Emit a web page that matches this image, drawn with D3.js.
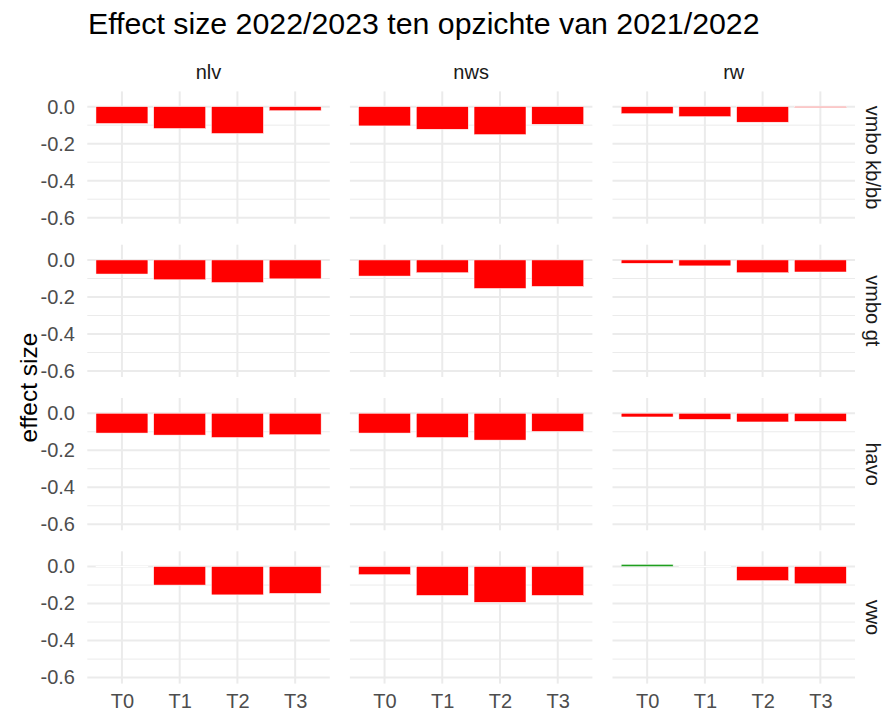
<!DOCTYPE html>
<html>
<head>
<meta charset="utf-8">
<script src="https://cdn.jsdelivr.net/npm/d3@7"></script>
<style>
  body { margin: 0; background: #fff; }
  text { font-family: 'Liberation Sans', Arial, sans-serif; }
</style>
</head>
<body>
<div id="chart"></div>
<script>
const subjects = ['nlv', 'nws', 'rw']
const levels = ['vmbo kb/bb', 'vmbo gt', 'havo', 'vwo']
const tests = ['T0', 'T1', 'T2', 'T3']
const yTicks = [0, -0.2, -0.4, -0.6]
const yMinorTicks = [-0.1, -0.3, -0.5]

// effect sizes, one row per level, columns T0..T3
const nlvValues = [
  [-0.091, -0.118, -0.145, -0.022],
  [-0.076, -0.107, -0.122, -0.102],
  [-0.107, -0.118, -0.131, -0.116],
  [-0.001, -0.100, -0.153, -0.145]
]
const nwsValues = [
  [-0.104, -0.122, -0.151, -0.095],
  [-0.087, -0.069, -0.154, -0.143],
  [-0.107, -0.131, -0.145, -0.098],
  [-0.044, -0.156, -0.193, -0.156]
]
const rwValues = [
  [-0.038, -0.054, -0.084, -0.004],
  [-0.018, -0.032, -0.069, -0.065],
  [-0.020, -0.033, -0.047, -0.044],
  [0.012, -0.001, -0.076, -0.093]
]

const valuesBySubject = { nlv: nlvValues, nws: nwsValues, rw: rwValues }

const datapoints = []
subjects.forEach(s => {
  levels.forEach((l, i) => {
    tests.forEach((t, j) => {
      datapoints.push({ subject: s, level: l, test: t, value: valuesBySubject[s][i][j] })
    })
  })
})

const width = 886
const height = 712
const margin = { top: 91.4, left: 87.3 }
const panelW = 242.5
const panelH = 132.3
const gapX = 20.1
const gapY = 21
const tickFont = 20

const svg = d3
  .select('#chart')
  .append('svg')
  .attr('width', width)
  .attr('height', height)

const xPositionScale = d3.scalePoint().domain(tests).range([0, panelW]).padding(0.6)
const barWidth = xPositionScale.step() * 0.9

const yPositionScale = d3
  .scaleLinear()
  .domain([-0.6325, 0.0825])
  .range([panelH, 0])

const colScale = d3.scaleBand().domain(subjects).range([margin.left, margin.left + 3 * panelW + 2 * gapX]).paddingInner(gapX / (panelW + gapX))
const rowScale = d3.scaleBand().domain(levels).range([margin.top, margin.top + 4 * panelH + 3 * gapY]).paddingInner(gapY / (panelH + gapY))

// title
svg.append('text')
  .attr('x', 88)
  .attr('y', 34)
  .attr('font-size', 30.3)
  .attr('fill', '#000')
  .text('Effect size 2022/2023 ten opzichte van 2021/2022')

// y axis title
svg.append('text')
  .attr('transform', 'translate(37,' + (margin.top + (4 * panelH + 3 * gapY) / 2) + ') rotate(-90)')
  .attr('text-anchor', 'middle')
  .attr('font-size', 24.5)
  .attr('fill', '#000')
  .text('effect size')

subjects.forEach(s => {
  levels.forEach(l => {
    const panel = svg.append('g')
      .attr('transform', 'translate(' + colScale(s) + ',' + rowScale(l) + ')')

    // grid lines
    panel.selectAll('.minor')
      .data(yMinorTicks)
      .enter()
      .append('line')
      .attr('x1', 0)
      .attr('x2', panelW)
      .attr('y1', d => yPositionScale(d))
      .attr('y2', d => yPositionScale(d))
      .attr('stroke', '#EBEBEB')
      .attr('stroke-width', 1)

    panel.selectAll('.major')
      .data(yTicks)
      .enter()
      .append('line')
      .attr('x1', 0)
      .attr('x2', panelW)
      .attr('y1', d => yPositionScale(d))
      .attr('y2', d => yPositionScale(d))
      .attr('stroke', '#EBEBEB')
      .attr('stroke-width', 2)

    panel.selectAll('.vgrid')
      .data(tests)
      .enter()
      .append('line')
      .attr('x1', d => xPositionScale(d))
      .attr('x2', d => xPositionScale(d))
      .attr('y1', 0)
      .attr('y2', panelH)
      .attr('stroke', '#EBEBEB')
      .attr('stroke-width', 2)

    // bars: red below zero, green above
    panel.selectAll('rect')
      .data(datapoints.filter(d => d.subject === s && d.level === l))
      .enter()
      .append('rect')
      .attr('x', d => xPositionScale(d.test) - barWidth / 2)
      .attr('y', d => Math.min(yPositionScale(d.value), yPositionScale(0)))
      .attr('width', barWidth)
      .attr('height', d => Math.max(Math.abs(yPositionScale(d.value) - yPositionScale(0)), 0.2))
      .attr('fill', d => d.value > 0 ? '#1f9f1f' : '#FF0000')
      .attr('stroke', 'white')
      .attr('stroke-width', 0.5)

    // y axis labels on the first column
    if (s === subjects[0]) {
      const yAxis = d3.axisLeft(yPositionScale)
        .tickValues(yTicks)
        .tickSize(0)
        .tickPadding(12.3)
        .tickFormat(d => d.toFixed(1))
      const g = panel.append('g').call(yAxis)
      g.select('.domain').remove()
      g.selectAll('text')
        .attr('font-size', tickFont)
        .attr('font-family', null)
        .attr('fill', '#4D4D4D')
    }

    // x axis labels on the last row
    if (l === levels[levels.length - 1]) {
      const xAxis = d3.axisBottom(xPositionScale)
        .tickSize(0)
        .tickPadding(10.2)
      const g = panel.append('g')
        .attr('transform', 'translate(0,' + panelH + ')')
        .call(xAxis)
      g.select('.domain').remove()
      g.selectAll('text')
        .attr('font-size', tickFont)
        .attr('font-family', null)
        .attr('fill', '#4D4D4D')
    }
  })
})

// strip labels on top
svg.selectAll('.strip-top')
  .data(subjects)
  .enter()
  .append('text')
  .attr('x', d => colScale(d) + panelW / 2)
  .attr('y', 79)
  .attr('text-anchor', 'middle')
  .attr('font-size', tickFont)
  .attr('fill', '#1A1A1A')
  .text(d => d)

// strip labels on the right
svg.selectAll('.strip-right')
  .data(levels)
  .enter()
  .append('text')
  .attr('transform', d => 'translate(866,' + (rowScale(d) + panelH / 2) + ') rotate(90)')
  .attr('text-anchor', 'middle')
  .attr('font-size', tickFont)
  .attr('fill', '#1A1A1A')
  .text(d => d)
</script>
</body>
</html>
